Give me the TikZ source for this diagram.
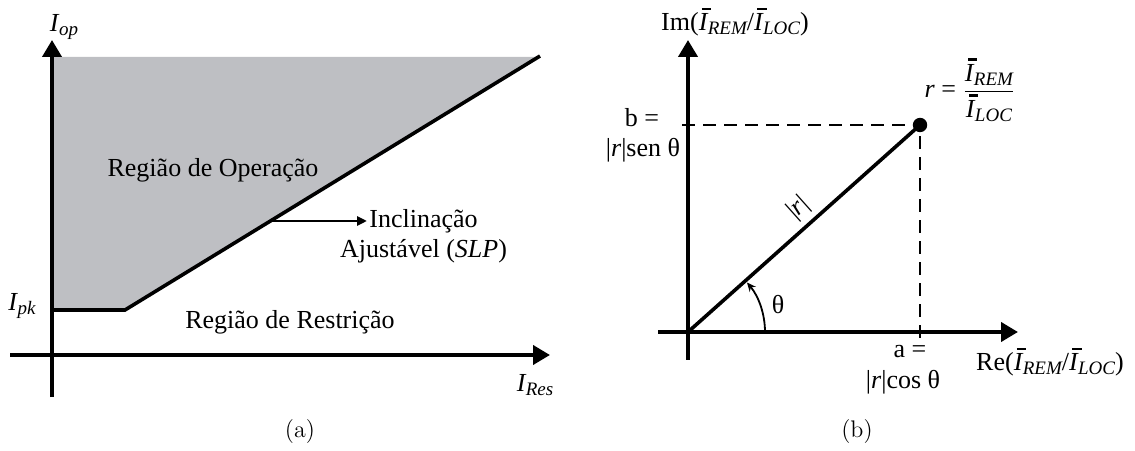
\documentclass[tikz,border=0pt]{standalone}
\usepackage{fontspec}
\newfontfamily\timesfont{Liberation Serif}
\usetikzlibrary{arrows.meta, positioning}

\definecolor{regiongray}{RGB}{190,191,195}
\newcommand{\isub}[2]{\textit{#1}\kern-0.3pt\raisebox{-0.35ex}{\fontsize{9.5}{10}\selectfont\itshape #2}}
\newcommand{\ibar}{\leavevmode\rlap{\kern1.6pt\rule[0.78em]{0.36em}{1.3pt}}\textit{I}}
\newcommand{\ratio}{\isub{\ibar}{REM}/\isub{\ibar}{LOC}}

\begin{document}
\begin{tikzpicture}[x=0.5pt, y=0.5pt,
  txt/.style={font=\timesfont\fontsize{13}{15}\selectfont, inner sep=1pt},
  capt/.style={font=\fontsize{12}{14}\selectfont},
  axis/.style={line width=2pt, -{Triangle[length=8.5pt,width=9.5pt]}},
  curve/.style={line width=1.8pt},
  guide/.style={line width=1.2pt, dash pattern=on 6.5pt off 4pt}]
  \useasboundingbox (0,0) rectangle (1135,450);

  % (a) characteristic
  \coordinate (oa) at (52,95);
  \coordinate (pk) at (52,140);
  \coordinate (kink) at (125,140);
  \coordinate (top) at (540,394);
  \coordinate (slp) at (270,229);
  \fill[regiongray] (52,393) -- (538,393) -- (kink) -- (pk) -- cycle;
  \draw[curve] (pk) -- (kink) -- (top);
  \draw[axis] (10,95) -- (550,95);
  \draw[axis] (52,53) -- (52,410);

  \node[txt] (iop) at (64,423) {\isub{I}{op}};
  \node[txt] (ipk) at (22,144) {\isub{I}{pk}};
  \node[txt] (ires) at (535,65) {\isub{I}{Res}};
  \node[txt] (oper) at (213,280) {Região de Operação};
  \node[txt] (restr) at (290,128) {Região de Restrição};
  \node[txt, anchor=west] (incl) at (367,229) {Inclinação};
  \node[txt, below=1pt of incl] (ajust) {Ajustável (\textit{SLP})};
  \draw[line width=1.3pt, -{Triangle[length=5pt,width=4.5pt]}] (slp) -- (incl.west);
  \node[capt] (capa) at (300,18) {(a)};

  % (b) complex plane
  \coordinate (ob) at (688,118);
  \coordinate (rpt) at (920,325);
  \draw[guide] (682,325) -- (rpt);
  \draw[guide] (920,112) -- (rpt);
  \draw[axis] (658,118) -- (1018,118);
  \draw[axis] (688,90) -- (688,410);
  \draw[curve] (ob) -- (rpt) node[txt, pos=0.53, sloped, above=1.5pt] (mod) {|\textit{r}|};
  \fill (rpt) circle[radius=3.6pt];
  \draw[line width=0.9pt, -{Stealth[length=4.5pt,width=4pt]}] (765,118)
    arc[start angle=0, end angle=40, radius=38.5pt];

  \node[txt] (theta) at (778,145) {θ};
  \node[txt] (im) at (735,428) {Im(\ratio)};
  \node[txt] (re) at (1050,88) {Re(\ratio)};
  \node[txt] (aeq) at (910,98) {a =};
  \node[txt] (acos) at (903,68) {|\textit{r}|cos θ};
  \node[txt] (beq) at (642,332) {b =};
  \node[txt] (bsen) at (643,300) {|\textit{r}|sen θ};
  \node[txt] (rfrac) at (970,360) {\textit{r} = $\displaystyle\frac{\mbox{\isub{\ibar}{REM}}}{\mbox{\isub{\ibar}{LOC}}}$};
  \node[capt] (captb) at (857,18) {(b)};
\end{tikzpicture}
\end{document}
